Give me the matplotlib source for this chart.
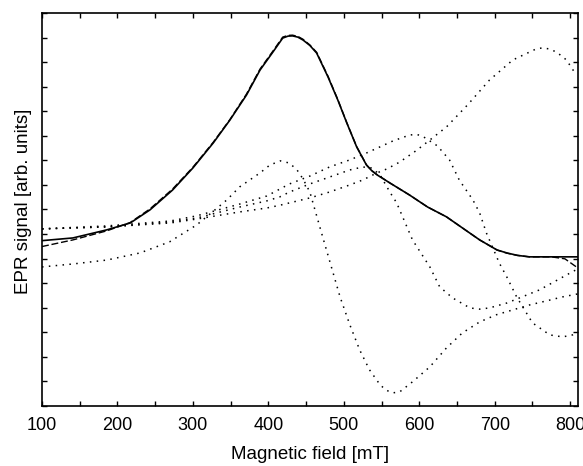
import matplotlib
matplotlib.use("Agg")
import matplotlib.pyplot as plt
from matplotlib.ticker import MultipleLocator, NullFormatter

plt.rcParams['font.family'] = ['Liberation Sans', 'DejaVu Sans']

# experimental spectrum (solid) and total fit (dashed)
field_exp = [100, 141, 186, 217, 243, 273, 300, 327, 349, 371, 389, 406, 419, 426,
             432, 439, 446, 455, 464, 479, 492, 504, 517, 530, 537, 544, 561, 587,
             611, 636, 680, 703, 716, 730, 746, 775, 803, 810]
signal_exp = [6.73, 6.84, 7.17, 7.45, 7.98, 8.79, 9.69, 10.71, 11.64, 12.66, 13.68,
              14.41, 14.98, 15.06, 15.07, 15.02, 14.90, 14.68, 14.37, 13.40, 12.46,
              11.52, 10.55, 9.81, 9.58, 9.41, 9.08, 8.59, 8.10, 7.70, 6.76, 6.35,
              6.23, 6.13, 6.07, 6.07, 6.07, 6.07]

field_fit = [100, 141, 186, 217, 243, 273, 300, 327, 349, 371, 389, 406, 419, 426,
             432, 439, 446, 455, 464, 479, 492, 504, 517, 530, 537, 544, 561, 587,
             611, 636, 680, 703, 716, 730, 746, 775, 793, 810]
signal_fit = [6.49, 6.76, 7.13, 7.47, 8.02, 8.83, 9.72, 10.74, 11.66, 12.70, 13.72,
              14.45, 15.02, 15.09, 15.10, 15.05, 14.93, 14.70, 14.40, 13.43, 12.48,
              11.53, 10.56, 9.82, 9.58, 9.42, 9.08, 8.59, 8.10, 7.70, 6.76, 6.35,
              6.22, 6.13, 6.07, 6.07, 5.99, 5.62]

# simulated components (dotted)
field_c1 = [100, 141, 186, 230, 269, 305, 326, 345, 362, 389, 402, 416, 428, 438,
            446, 455, 472, 495, 508, 521, 534, 548, 556, 565, 574, 591, 614, 636,
            657, 680, 702, 724, 746, 769, 790, 810]
signal_c1 = [5.66, 5.78, 5.94, 6.23, 6.68, 7.37, 7.90, 8.39, 8.92, 9.49, 9.81, 9.98,
             9.89, 9.61, 9.24, 8.71, 6.88, 4.44, 3.30, 2.28, 1.47, 0.86, 0.64, 0.53,
             0.57, 0.98, 1.59, 2.36, 2.97, 3.42, 3.71, 3.91, 4.11, 4.28, 4.44, 4.56]

field_c2 = [100, 186, 270, 305, 362, 398, 428, 455, 481, 508, 530, 548, 565, 587,
            596, 604, 624, 640, 653, 671, 680, 689, 697, 706, 716, 729, 750, 773,
            790, 803, 810]
signal_c2 = [7.21, 7.33, 7.53, 7.74, 8.22, 8.55, 9.04, 9.36, 9.73, 10.02, 10.30,
             10.55, 10.79, 11.03, 11.06, 10.99, 10.59, 10.02, 9.20, 8.39, 7.86, 7.04,
             6.47, 5.82, 5.25, 4.44, 3.38, 2.89, 2.81, 2.89, 2.97]

field_c3 = [100, 186, 270, 305, 362, 398, 415, 455, 481, 508, 525, 544, 557, 574,
            597, 614, 636, 664, 693, 724, 746, 755, 763, 772, 782, 795, 808]
signal_c3 = [7.21, 7.29, 7.45, 7.61, 7.90, 8.06, 8.17, 8.47, 8.71, 9.00, 9.20, 9.49,
             9.65, 9.93, 10.42, 10.83, 11.36, 12.26, 13.27, 14.09, 14.41, 14.54,
             14.58, 14.54, 14.41, 14.09, 13.48]

field_c4 = [100, 186, 270, 305, 362, 398, 415, 428, 455, 481, 508, 525, 537, 548,
            561, 570, 591, 614, 627, 644, 667, 680, 693, 716, 759, 795, 810]
signal_c4 = [7.21, 7.29, 7.49, 7.65, 8.10, 8.35, 8.51, 8.71, 9.04, 9.32, 9.61, 9.73,
             9.69, 9.41, 8.71, 8.27, 6.76, 5.66, 4.85, 4.40, 3.99, 3.94, 3.99, 4.19,
             4.72, 5.33, 5.58]

fig = plt.figure(figsize=(5.83, 4.66), dpi=100)
ax = fig.add_axes([0.072, 0.129, 0.919, 0.843])

dots = (0, (1, 3.5))
for fx, sy in [(field_c1, signal_c1), (field_c2, signal_c2),
               (field_c3, signal_c3), (field_c4, signal_c4)]:
    ax.plot(fx, sy, color="black", linestyle=dots, linewidth=1.1)

ax.plot(field_fit, signal_fit, color="black", linestyle=(0, (5, 2)), linewidth=1.0)
ax.plot(field_exp, signal_exp, color="black", linewidth=1.2)

ax.set_xlim(100, 810)
ax.set_ylim(0, 16)
ax.xaxis.set_major_locator(MultipleLocator(100))
ax.xaxis.set_minor_locator(MultipleLocator(50))
ax.yaxis.set_major_locator(MultipleLocator(1))
ax.yaxis.set_major_formatter(NullFormatter())
ax.tick_params(which="both", direction="in", top=True, right=True,
               length=3.5, width=1.0, labelsize=13, pad=8)
for sp in ax.spines.values():
    sp.set_linewidth(1.2)

ax.set_xlabel("Magnetic field [mT]", fontsize=13.5, labelpad=9)
ax.set_ylabel("EPR signal [arb. units]", fontsize=13.5)
ax.yaxis.set_label_coords(-0.019, 0.522)

fig.savefig("out.png", dpi=100)
